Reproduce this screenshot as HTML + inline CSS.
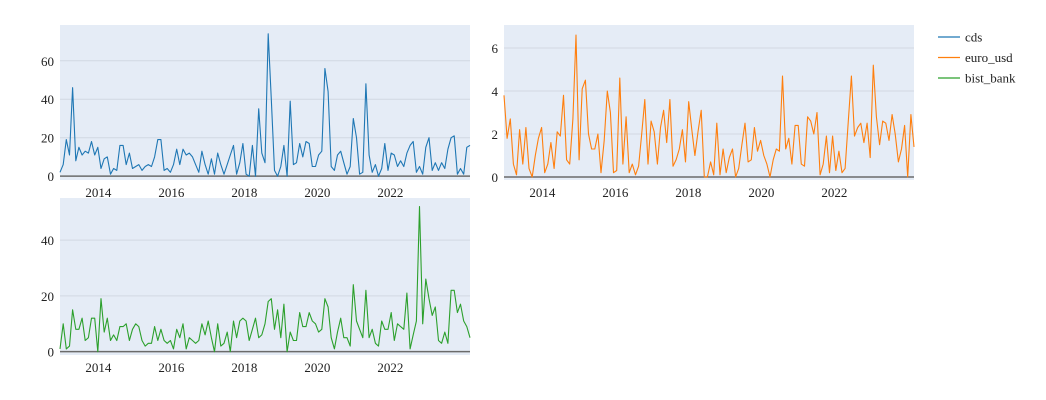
<!DOCTYPE html>
<html><head><meta charset="utf-8"><style>
body{margin:0;background:#fff;}
svg{display:block;font-family:"Liberation Serif",serif;}
</style></head><body>
<svg id="chart" width="1046" height="400" xmlns="http://www.w3.org/2000/svg"></svg>
<script>
const cds=[2,6,19,11,46,8,15,11,13,12,18,11,15,4,9,10,1,4,3,16,16,6,12,4,5,6,3,5,6,5,10,19,19,3,4,2,6,14,6,14,11,12,10,6,2,13,6,1,9,1,12,6,1,6,11,16,1,7,17,1,0,16,0,35,12,7,74,40,3,0,5,16,0,39,6,7,17,10,18,17,5,5,11,13,56,44,5,3,11,13,7,1,5,30,20,1,2,48,11,2,6,0,4,17,3,12,11,5,8,5,12,16,18,2,5,1,15,20,3,7,3,7,4,14,20,21,1,4,1,15,16];
const euroUsd=[3.8,1.8,2.7,0.6,0.1,2.2,0.6,2.3,0.4,0,1.0,1.8,2.3,0.2,0.6,1.6,0.4,2.1,1.9,3.8,0.8,0.6,2.7,6.6,0.8,4.1,4.5,2.0,1.3,1.3,2.0,0.2,1.7,4.0,3.0,0.2,0.3,4.6,0.6,2.8,0.2,0.6,0.1,0.5,2.0,3.6,0.6,2.6,2.1,0.6,2.3,3.1,1.6,3.6,0.5,0.8,1.3,2.2,0.7,3.5,2.2,1.0,2.1,3.1,0,0,0.7,0.1,2.5,0.1,1.3,0.2,0.9,1.3,0,0.4,1.5,2.5,0.7,0.8,2.3,1.2,1.7,1.0,0.6,0,0.8,1.3,1.2,4.7,1.3,1.8,0.6,2.4,2.4,0.6,0.5,2.8,2.6,2.0,3.0,0.1,0.6,1.9,0.2,1.9,0.3,1.2,0.2,0.4,2.6,4.7,1.9,2.3,2.5,1.6,2.5,0.9,5.2,2.8,1.5,2.6,2.5,1.7,2.9,2.0,0.7,1.3,2.4,0,2.9,1.4];
const bistBank=[1,10,1,2,15,8,8,12,4,5,12,12,0,19,7,12,4,6,4,9,9,10,4,8,10,9,4,2,3,3,9,4,8,4,3,4,1,8,5,10,1,5,4,3,4,10,6,11,5,0,10,2,3,7,0,11,5,11,12,11,4,8,12,5,6,10,18,19,8,15,5,17,0,7,4,4,14,9,9,14,11,10,7,8,19,16,5,1,7,12,5,5,2,24,11,8,5,22,5,8,3,2,11,8,8,14,4,10,9,8,21,1,6,11,52,10,26,19,13,16,4,3,7,3,22,22,14,17,11,9,5];
const yearTicks=[2014,2016,2018,2020,2022];
const cdsTicks=[0,20,40,60], euroTicks=[0,2,4,6], bistTicks=[0,20,40];
const NS="http://www.w3.org/2000/svg";
const svg=document.getElementById('chart');
function el(tag,attrs,parent){const e=document.createElementNS(NS,tag);for(const k in attrs)e.setAttribute(k,attrs[k]);(parent||svg).appendChild(e);return e;}
function panel(name,x0,x1,y0,y1,ymin,ymax,data,ticks,color){
  const g=el('g',{});
  
  
  el('rect',{x:x0,y:y0,width:x1-x0,height:y1-y0,fill:'#e5ecf6'},g);
  const ys=v=>y1-(v-ymin)/(ymax-ymin)*(y1-y0);
  const tStart=2012.95,tEnd=2024.18;
  const xs=t=>x0+(t-tStart)/(tEnd-tStart)*(x1-x0);
  ticks.forEach(v=>{
    const y=ys(v);
    const gl=el('line',{x1:x0,x2:x1,y1:y,y2:y,stroke:v===0?'#6b6b6b':'#d2d8e2','stroke-width':v===0?1.5:1},g);
    
    
    const t=el('text',{x:x0-6,y:y+5,'text-anchor':'end','font-size':13,fill:'#222'},g);
    t.textContent=v;
    
    
  });
  yearTicks.forEach(yr=>{
    const t=el('text',{x:xs(yr),y:y1+17,'text-anchor':'middle','font-size':13,fill:'#222'},g);
    t.textContent=yr;
    
    
  });
  const n=data.length;
  const pts=data.map((v,i)=>xs(tStart+i*(tEnd-tStart)/(n-1)).toFixed(1)+','+ys(v).toFixed(1)).join(' ');
  const pl=el('polyline',{points:pts,fill:'none',stroke:color,'stroke-width':1.1,'stroke-linejoin':'round'},g);
  
  
}
panel('cds',60,470,25,180,-2,78.6,cds,cdsTicks,'#1f77b4');
panel('euro-usd',504,914,25,180,-0.14,7.07,euroUsd,euroTicks,'#ff7f0e');
panel('bist-bank',60,470,198,355,-1.2,55.1,bistBank,bistTicks,'#2ca02c');
const leg=[['cds','#1f77b4'],['euro_usd','#ff7f0e'],['bist_bank','#2ca02c']];
leg.forEach((l,i)=>{
  const g=el('g',{});
  
  
  const y=37+i*20.5;
  el('line',{x1:938,x2:960,y1:y,y2:y,stroke:l[1],'stroke-width':1.2},g);
  const t=el('text',{x:965,y:y+4.5,'font-size':13,fill:'#222'},g);
  t.textContent=l[0];
});
</script>
</body></html>
